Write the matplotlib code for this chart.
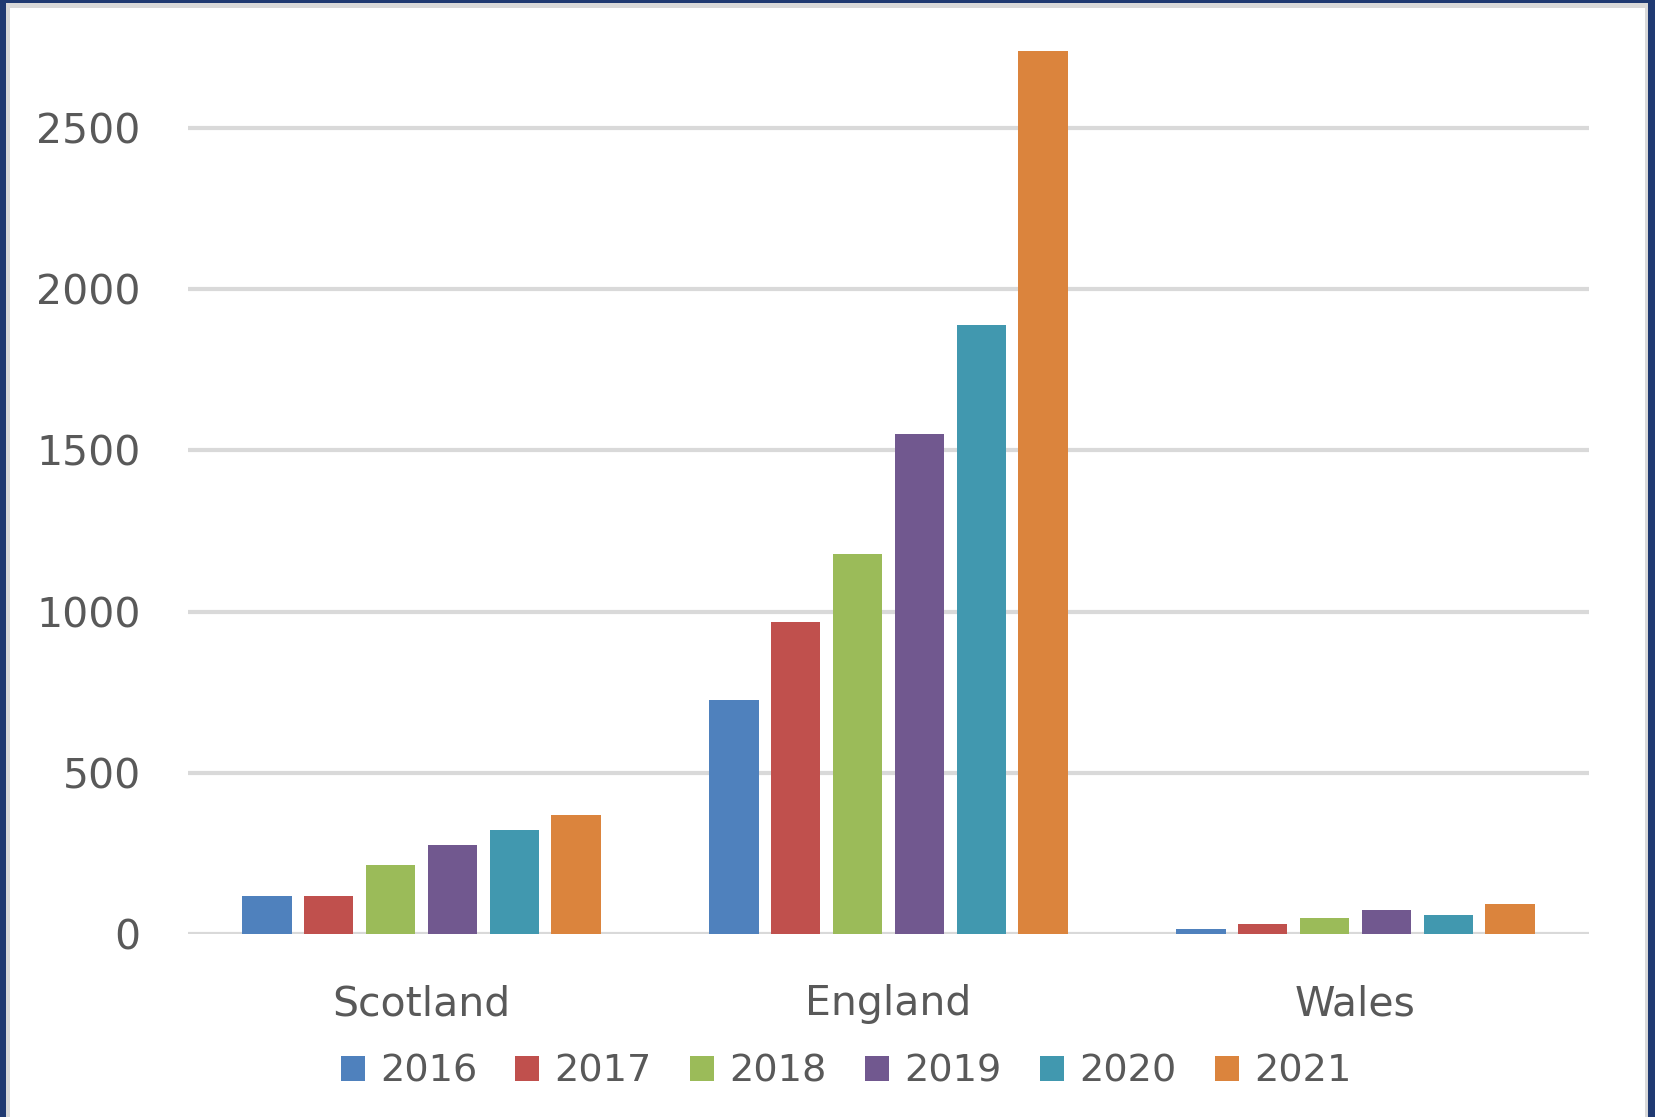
import numpy as np
import matplotlib.pyplot as plt
from matplotlib.patches import Rectangle

# chart data
regions = ["Scotland", "England", "Wales"]
years = ["2016", "2017", "2018", "2019", "2020", "2021"]
vals_2016 = [118, 726, 14]
vals_2017 = [118, 968, 31]
vals_2018 = [213, 1178, 50]
vals_2019 = [275, 1551, 75]
vals_2020 = [324, 1888, 59]
vals_2021 = [370, 2739, 93]
series = [vals_2016, vals_2017, vals_2018, vals_2019, vals_2020, vals_2021]
colors = ["#4F81BD", "#C0504D", "#9BBB59", "#71588F", "#4198AF", "#DB843D"]

W, H = 1655, 1117
fig = plt.figure(figsize=(W / 100, H / 100), dpi=100)
fig.patch.set_facecolor("#203A72")

# frame: dark blue edge, thin grey line, white inside
fig.patches.append(Rectangle((6 / W, 0), (1648 - 6) / W, (H - 3) / H,
                             transform=fig.transFigure, facecolor="#D9D9D9",
                             edgecolor="none", zorder=-2))
fig.patches.append(Rectangle((10 / W, 0), (1645 - 10) / W, (H - 8) / H,
                             transform=fig.transFigure, facecolor="white",
                             edgecolor="none", zorder=-1))

ymax = 2760
left, right = 188, 1589
base_px = 934
top_px = base_px - ymax * (806 / 2500)
ax = fig.add_axes([left / W, (H - base_px) / H, (right - left) / W, (base_px - top_px) / H])
ax.set_facecolor("none")

x = np.arange(len(regions))
pitch = 0.1325
width = 0.106
for i, (yr, vals) in enumerate(zip(years, series)):
    offs = (i - 2.5) * pitch
    ax.bar(x + offs, vals, width=width, color=colors[i], label=yr, zorder=3)

ax.set_xlim(-0.5, 2.5)
ax.set_ylim(0, ymax)
ax.set_yticks([0, 500, 1000, 1500, 2000, 2500])
ax.grid(axis="y", color="#D9D9D9", linewidth=3, zorder=0)
ax.set_axisbelow(True)
for s in ax.spines.values():
    s.set_visible(False)

font = "DejaVu Sans"
txt_color = "#595959"
ax.set_xticks(x)
ax.set_xticklabels(regions, fontsize=29.5, color=txt_color, family=font)
ax.tick_params(axis="x", length=0, pad=36)
ax.tick_params(axis="y", length=0, pad=34, labelsize=29.5, labelcolor=txt_color)
for lab in ax.get_yticklabels():
    lab.set_family(font)

leg = fig.legend(loc="center", bbox_to_anchor=(846 / W, (H - 1072) / H), ncol=6,
                 frameon=False, prop={"family": font, "size": 27.5},
                 handlelength=0.63, handleheight=0.63, handletextpad=0.4,
                 columnspacing=1.0, borderpad=0)
for t in leg.get_texts():
    t.set_color(txt_color)

fig.savefig("out.png", dpi=100, facecolor=fig.get_facecolor())
